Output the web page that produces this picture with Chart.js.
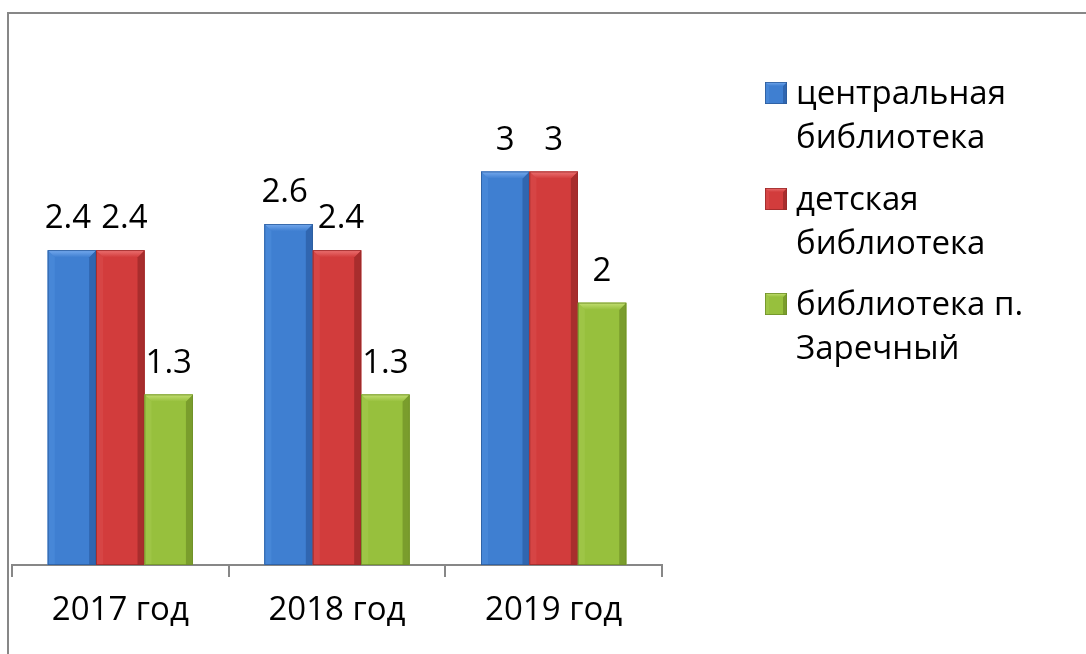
<!DOCTYPE html>
<html>
<head>
<meta charset="utf-8">
<script src="https://cdn.jsdelivr.net/npm/chart.js@4.4.1/dist/chart.umd.min.js"></script>
<style>
  html, body { margin: 0; padding: 0; background: #fff; }
  #wrap { width: 1086px; height: 654px; position: relative; }
</style>
</head>
<body>
<div id="wrap"><canvas id="chart"></canvas></div>
<script>
// --- data ---
const categories = ["2017 год", "2018 год", "2019 год"];
const centralLib = [2.4, 2.6, 3];
const childrenLib = [2.4, 2.4, 3];
const zarechnyLib = [1.3, 1.3, 2];
const seriesNames = [
  ["центральная", "библиотека"],
  ["детская", "библиотека"],
  ["библиотека п.", "Заречный"]
];

const FONT_SIZE = 33;
const FONT = FONT_SIZE + "px 'Open Sans', sans-serif";

// bevelled look, one set of shades per series
const shades = [
  { face: "#3f7fd1", top: "#76aaee", left: "#4787d7", right: "#3066b0", edge: "#2c5c9c" },
  { face: "#d23c3c", top: "#ec7272", left: "#d64545", right: "#a82d2d", edge: "#9a2a2a" },
  { face: "#97c03d", top: "#c4df73", left: "#9ec546", right: "#7a9d2c", edge: "#6f8f2a" }
];

function bevelBox(ctx, x0, y0, x1, y1, b, c) {
  ctx.save();
  ctx.fillStyle = c.face;
  ctx.fillRect(x0, y0, x1 - x0, y1 - y0);
  // left strip
  ctx.fillStyle = c.left;
  ctx.beginPath();
  ctx.moveTo(x0, y0); ctx.lineTo(x0 + b, y0 + b); ctx.lineTo(x0 + b, y1); ctx.lineTo(x0, y1);
  ctx.fill();
  // right strip
  ctx.fillStyle = c.right;
  ctx.beginPath();
  ctx.moveTo(x1, y0); ctx.lineTo(x1 - b, y0 + b); ctx.lineTo(x1 - b, y1); ctx.lineTo(x1, y1);
  ctx.fill();
  // top bevel
  const g = ctx.createLinearGradient(0, y0, 0, y0 + b);
  g.addColorStop(0, c.top);
  g.addColorStop(1, c.face);
  ctx.fillStyle = g;
  ctx.beginPath();
  ctx.moveTo(x0, y0); ctx.lineTo(x1, y0); ctx.lineTo(x1 - b, y0 + b); ctx.lineTo(x0 + b, y0 + b);
  ctx.fill();
  ctx.strokeStyle = c.edge;
  ctx.lineWidth = 0.8;
  ctx.strokeRect(x0 + 0.4, y0 + 0.4, x1 - x0 - 0.8, y1 - y0 - 0.8);
  ctx.restore();
}

const framePlugin = {
  id: "frame",
  beforeDraw(chart) {
    const ctx = chart.ctx;
    ctx.save();
    ctx.fillStyle = "#fff";
    ctx.fillRect(0, 0, chart.width, chart.height);
    ctx.strokeStyle = "#878787";
    ctx.lineWidth = 2;
    ctx.strokeRect(8, 13, 1200, 800);
    ctx.restore();
  }
};

const bevelPlugin = {
  id: "bevel",
  afterDatasetsDraw(chart) {
    const ctx = chart.ctx;
    ctx.save();
    ctx.font = FONT;
    const labels = categories.map(() => []);
    chart.data.datasets.forEach((ds, i) => {
      const meta = chart.getDatasetMeta(i);
      meta.data.forEach((bar, j) => {
        const x0 = bar.x - bar.width / 2, x1 = bar.x + bar.width / 2;
        bevelBox(ctx, x0, bar.y, x1, bar.base, 7, shades[i]);
        const text = String(ds.data[j]);
        labels[j].push({ text, x: bar.x, y: bar.y - 22, w: ctx.measureText(text).width });
      });
    });
    // push apart labels that sit side by side at the same height
    labels.forEach(list => {
      for (let k = 1; k < list.length; k++) {
        const a = list[k - 1], b = list[k];
        if (Math.abs(a.y - b.y) > FONT_SIZE * 0.8) continue;
        const overlap = (a.x + a.w / 2 + 10) - (b.x - b.w / 2);
        if (overlap > 0) { a.x -= overlap / 2; b.x += overlap / 2; }
      }
    });
    ctx.fillStyle = "#000";
    ctx.textAlign = "center";
    ctx.textBaseline = "alphabetic";
    labels.flat().forEach(l => ctx.fillText(l.text, l.x, l.y));
    ctx.restore();
  }
};

const legendPlugin = {
  id: "sideLegend",
  afterDraw(chart) {
    const ctx = chart.ctx;
    const baselines = [104, 210, 315];
    ctx.save();
    ctx.font = FONT;
    ctx.textBaseline = "alphabetic";
    seriesNames.forEach((lines, i) => {
      const by = baselines[i];
      bevelBox(ctx, 765, by - 22, 787, by, 4, shades[i]);
      ctx.fillStyle = "#000";
      lines.forEach((t, k) => ctx.fillText(t, 796, by + k * 44));
    });
    ctx.restore();
  }
};

new Chart(document.getElementById("chart"), {
  type: "bar",
  data: {
    labels: categories,
    datasets: [
      { label: seriesNames[0].join(" "), data: centralLib, backgroundColor: shades[0].face },
      { label: seriesNames[1].join(" "), data: childrenLib, backgroundColor: shades[1].face },
      { label: seriesNames[2].join(" "), data: zarechnyLib, backgroundColor: shades[2].face }
    ]
  },
  options: {
    responsive: true,
    maintainAspectRatio: false,
    animation: false,
    layout: { padding: { left: 12, right: 424, top: 106, bottom: 0 } },
    datasets: { bar: { categoryPercentage: 0.67, barPercentage: 1 } },
    scales: {
      x: {
        afterFit: s => { s.height = 89; },
        border: { color: "#878787", width: 2 },
        grid: { drawOnChartArea: false, drawTicks: true, tickLength: 12, color: "#878787", lineWidth: 2, offset: true },
        ticks: { color: "#000", font: { family: "'Open Sans', sans-serif", size: FONT_SIZE }, padding: 14 }
      },
      y: { display: false, min: 0, max: 3.5 }
    },
    plugins: {
      legend: { display: false },
      tooltip: { enabled: false }
    }
  },
  plugins: [framePlugin, bevelPlugin, legendPlugin]
});
</script>
</body>
</html>
